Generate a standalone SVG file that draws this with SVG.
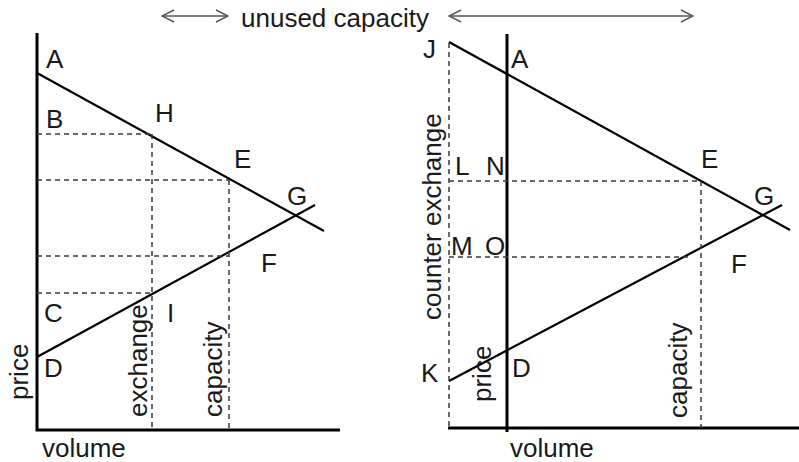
<svg xmlns="http://www.w3.org/2000/svg" width="799" height="462" viewBox="0 0 799 462">
<style>
text{font-family:"Liberation Sans",Arial,sans-serif;font-size:26px;fill:#1a1a1a}
.axis{stroke:#000;stroke-width:3;fill:none}
.curve{stroke:#000;stroke-width:2.2;fill:none}
.dash{stroke:#3a3a3a;stroke-width:1.5;stroke-dasharray:5 4;fill:none}
.arr{stroke:#555;stroke-width:1.4;fill:none;marker-start:url(#ah);marker-end:url(#ah)}
</style>
<defs>
<marker id="ah" viewBox="0 0 14 14" refX="13" refY="7" markerWidth="14" markerHeight="14" markerUnits="userSpaceOnUse" orient="auto-start-reverse">
<path d="M1 1 L13 7 L1 13" fill="none" stroke="#555" stroke-width="1.4"/>
</marker>
</defs>
<g id="legend">
<line class="arr" x1="162" y1="16" x2="228" y2="16"/>
<text x="241" y="27">unused capacity</text>
<line class="arr" x1="449" y1="16" x2="693" y2="16"/>
</g>
<g id="connectors">
<!-- left panel -->
<polyline class="axis" points="37,33 37,430 340,430"/>
<line class="curve" x1="37" y1="73" x2="324" y2="231"/>
<line class="curve" x1="37" y1="357" x2="315" y2="205"/>
<line class="dash" x1="37" y1="134" x2="152" y2="134"/>
<line class="dash" x1="37" y1="180" x2="229" y2="180"/>
<line class="dash" x1="37" y1="256" x2="229" y2="256"/>
<line class="dash" x1="37" y1="293" x2="152" y2="293"/>
<line class="dash" x1="152" y1="134" x2="152" y2="430"/>
<line class="dash" x1="229" y1="180" x2="229" y2="430"/>
<!-- right panel -->
<line class="axis" x1="507" y1="34" x2="507" y2="432"/>
<line class="axis" x1="448" y1="428" x2="799" y2="428"/>
<line class="curve" x1="449" y1="42" x2="790" y2="230"/>
<line class="curve" x1="449" y1="381" x2="782" y2="205"/>
<line class="dash" x1="449" y1="43" x2="449" y2="428"/>
<line class="dash" x1="449" y1="181" x2="700" y2="181"/>
<line class="dash" x1="449" y1="257" x2="688" y2="257"/>
<line class="dash" x1="701" y1="181" x2="701" y2="428"/>
</g>
<g id="left-labels">
<text x="46" y="68">A</text>
<text x="46" y="128">B</text>
<text x="155" y="122">H</text>
<text x="234" y="168">E</text>
<text x="287" y="205">G</text>
<text x="261" y="272">F</text>
<text x="44" y="322">C</text>
<text x="167" y="322">I</text>
<text x="44" y="377">D</text>
<text transform="translate(28,400) rotate(-90)">price</text>
<text transform="translate(147,417) rotate(-90)">exchange</text>
<text transform="translate(222,417) rotate(-90)">capacity</text>
<text x="42" y="457">volume</text>
</g>
<g id="right-labels">
<text x="423" y="58">J</text>
<text x="511" y="68">A</text>
<text x="455" y="175">L</text>
<text x="486" y="175">N</text>
<text x="701" y="168">E</text>
<text x="754" y="205">G</text>
<text x="451" y="255">M</text>
<text x="485" y="255">O</text>
<text x="731" y="273">F</text>
<text x="421" y="382">K</text>
<text x="512" y="377">D</text>
<text transform="translate(441,320) rotate(-90)">counter exchange</text>
<text transform="translate(491,402) rotate(-90)">price</text>
<text transform="translate(687,418) rotate(-90)">capacity</text>
<text x="510" y="457">volume</text>
</g>
</svg>
